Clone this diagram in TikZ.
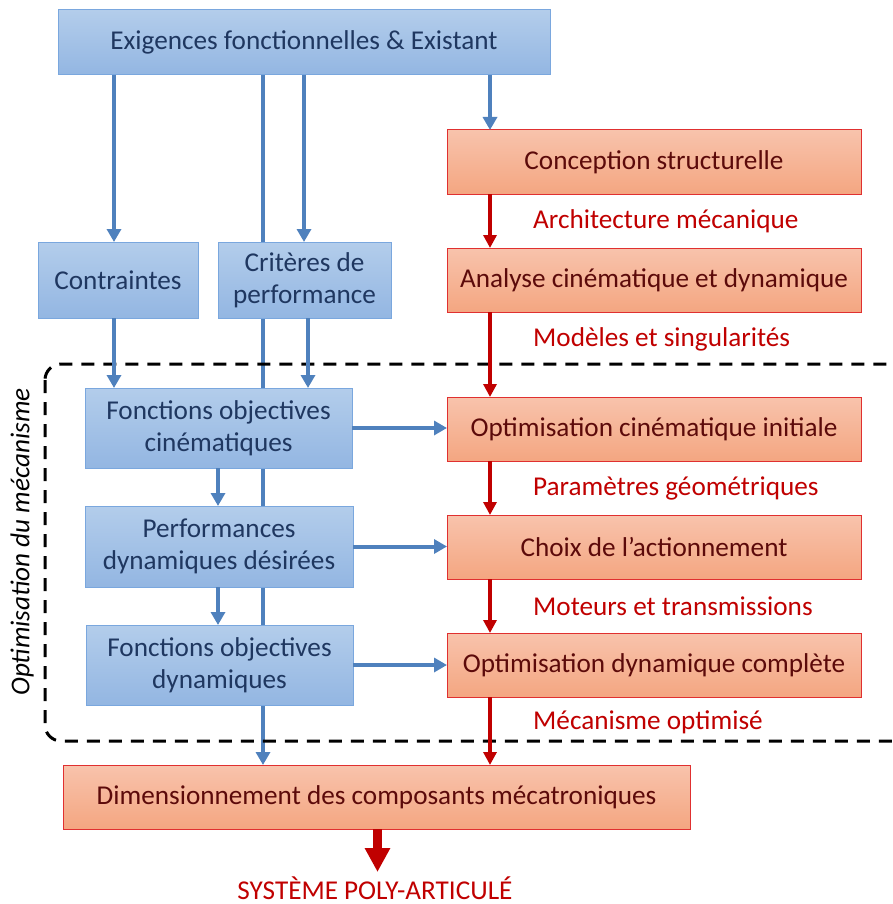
\documentclass[tikz,border=0pt]{standalone}
\usepackage{fontspec}
\setmainfont{Carlito}
\usetikzlibrary{arrows.meta,backgrounds}
\definecolor{bfillT}{HTML}{B3CDEB}
\definecolor{bfillB}{HTML}{93B6E2}
\definecolor{bdraw}{HTML}{7AA7DE}
\definecolor{btext}{HTML}{1F3760}
\definecolor{rfillT}{HTML}{F8C3AC}
\definecolor{rfillB}{HTML}{F4A681}
\definecolor{rdraw}{HTML}{E03030}
\definecolor{rtext}{HTML}{5C0A0A}
\definecolor{barr}{HTML}{4F81BD}
\definecolor{rarr}{HTML}{C00000}
\tikzset{
  box/.style={inner sep=2pt, outer sep=0pt, line width=1pt, align=center,
    font=\fontsize{27.2}{32}\selectfont},
  bluebox/.style={box, draw=bdraw, top color=bfillT, bottom color=bfillB, text=btext},
  redbox/.style={box, draw=rdraw, top color=rfillT, bottom color=rfillB, text=rtext},
  barrow/.style={draw=barr, line width=4pt, -{Triangle[length=13pt,width=14pt]}},
  rarrow/.style={draw=rarr, line width=3.5pt, -{Triangle[length=13pt,width=13pt]}},
  bigarrow/.style={draw=rarr, line width=9pt, -{Triangle[length=24pt,width=24pt]}},
  lbl/.style={text=rarr, anchor=west, inner sep=0pt, font=\fontsize{27.2}{32}\selectfont},
}
\begin{document}
\begin{tikzpicture}[x=1pt,y=-1pt]
\useasboundingbox (0,0) rectangle (893,904);
\begin{scope}
\clip (0,0) rectangle (893,904);
\draw[black, line width=3pt, dash pattern=on 13pt off 9pt, rounded corners=16pt]
  (45,364) rectangle (910,741);
\end{scope}
% blue boxes
\node[bluebox, minimum width=492pt, minimum height=65pt] (ex) at (304,42.5) {Exigences fonctionnelles \& Existant};
\node[bluebox, minimum width=160pt, minimum height=76pt] (con) at (118,280) {Contraintes};
\node[bluebox, minimum width=173pt, minimum height=76pt] (cri) at (304.5,280) {Critères de\\performance};
\node[bluebox, minimum width=267pt, minimum height=80pt] (foc) at (218.5,428) {Fonctions objectives\\cinématiques};
\node[bluebox, minimum width=268pt, minimum height=81pt] (per) at (219,546.5) {Performances\\dynamiques désirées};
\node[bluebox, minimum width=267pt, minimum height=80pt] (fod) at (219.5,665) {Fonctions objectives\\dynamiques};
% red boxes
\node[redbox, minimum width=414pt, minimum height=64pt] (cs) at (654,162) {Conception structurelle};
\node[redbox, minimum width=414pt, minimum height=64pt] (an) at (654,280) {Analyse cinématique et dynamique};
\node[redbox, minimum width=414pt, minimum height=64pt] (oci) at (654,429) {Optimisation cinématique initiale};
\node[redbox, minimum width=414pt, minimum height=64pt] (ch) at (654,547) {Choix de l’actionnement};
\node[redbox, minimum width=414pt, minimum height=64pt] (odc) at (654,665) {Optimisation dynamique complète};
\node[redbox, minimum width=627pt, minimum height=64pt] (dim) at (376.5,797) {Dimensionnement des composants mécatroniques};
% columns
\coordinate (x114) at (114,0);
\coordinate (x263) at (263,0);
\coordinate (x304) at (304,0);
\coordinate (x308) at (308,0);
\coordinate (x218) at (218,0);
\coordinate (x490) at (490,0);
\coordinate (x377) at (377.5,0);
% long blue line behind boxes
\begin{pgfonlayer}{background}
\draw[barrow] (ex.south -| x263) -- (dim.north -| x263);
\end{pgfonlayer}
% blue arrows
\draw[barrow] (ex.south -| x114) -- (con.north -| x114);
\draw[barrow] (ex.south -| x304) -- (cri.north -| x304);
\draw[barrow] (ex.south -| x490) -- (cs.north -| x490);
\draw[barrow] (con.south -| x114) -- (foc.north -| x114);
\draw[barrow] (cri.south -| x308) -- (foc.north -| x308);
\draw[barrow] (foc.south -| x218) -- (per.north -| x218);
\draw[barrow] (per.south -| x218) -- (fod.north -| x218);
\draw[barrow] (foc.east) -- (foc.east -| oci.west);
\draw[barrow] (per.east) -- (per.east -| ch.west);
\draw[barrow] (fod.east) -- (fod.east -| odc.west);
% red arrows
\draw[rarrow] (cs.south -| x490) -- (an.north -| x490);
\draw[rarrow] (an.south -| x490) -- (oci.north -| x490);
\draw[rarrow] (oci.south -| x490) -- (ch.north -| x490);
\draw[rarrow] (ch.south -| x490) -- (odc.north -| x490);
\draw[rarrow] (odc.south -| x490) -- (dim.north -| x490);
% output
\coordinate (tip) at (377.5,872);
\draw[bigarrow] (dim.south -| x377) -- (tip);
\node[text=rarr, inner sep=0pt, anchor=base, text depth=0pt, font=\fontsize{27.2}{32}\selectfont] (sys) at (375,899) {SYSTÈME POLY-ARTICULÉ};
% labels
\node[lbl] (l1) at (533,221) {Architecture mécanique};
\node[lbl] (l2) at (533,339) {Modèles et singularités};
\node[lbl] (l3) at (533,488) {Paramètres géométriques};
\node[lbl] (l4) at (533,606) {Moteurs et transmissions};
\node[lbl] (l5) at (533,722) {Mécanisme optimisé};
\node[rotate=90, font=\itshape\fontsize{27.2}{32}\selectfont, text=black] (opt) at (22,542) {Optimisation du mécanisme};
\end{tikzpicture}
\end{document}
